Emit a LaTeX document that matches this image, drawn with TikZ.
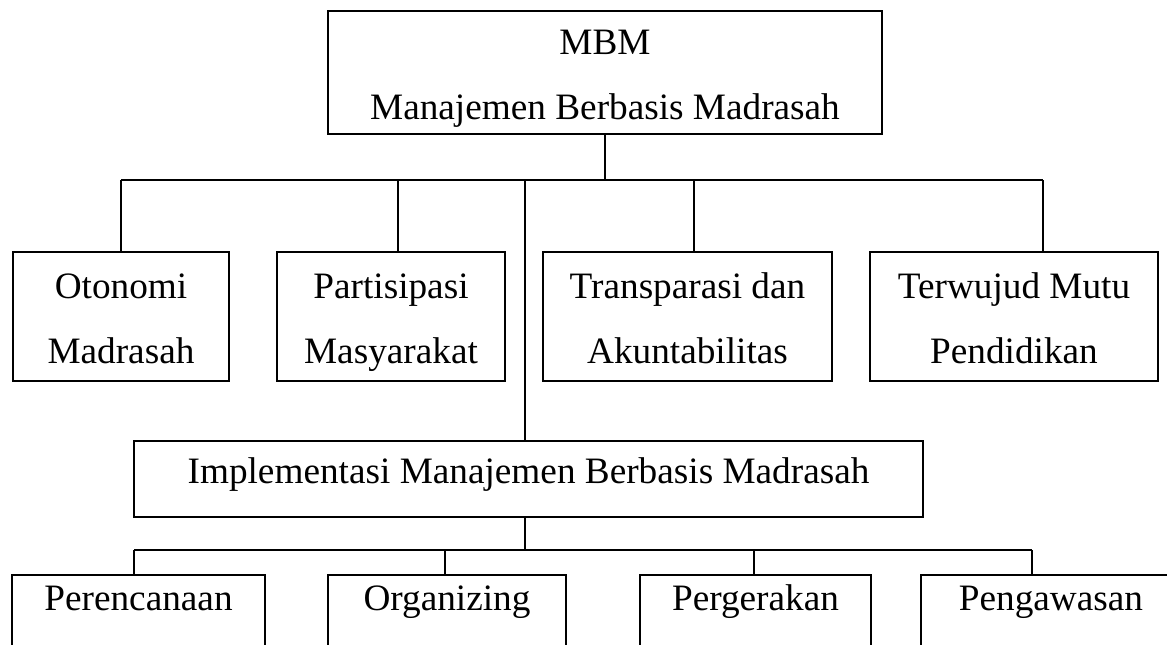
\documentclass[tikz,border=0pt]{standalone}
\usepackage{fontspec}
\setmainfont{Liberation Serif}
\usepackage{tikz}
\usetikzlibrary{positioning,calc}

\begin{document}
\begin{tikzpicture}[
  box/.style={draw, line width=1pt, align=center, inner sep=0pt, text height=2.16cm, text depth=0.3cm, font=\fontsize{21.2}{36.8}\selectfont},
  onebox/.style={box, text height=0.5cm, text depth=0.34cm},
  cutbox/.style={box, anchor=north, text height=0.72cm, text depth=1.2cm},
  link/.style={line width=1pt},
]
\useasboundingbox (0,0) rectangle (23.34,-12.9);
\node[box, minimum width=11.08cm, minimum height=2.46cm] (mbm) at (12.10,-1.45) {MBM\\Manajemen Berbasis Madrasah};
\node[box, minimum width=4.32cm, minimum height=2.58cm] (oto) at (2.42,-6.33) {Otonomi\\Madrasah};
\node[box, minimum width=4.56cm, minimum height=2.58cm] (par) at (7.82,-6.33) {Partisipasi\\Masyarakat};
\node[box, minimum width=5.78cm, minimum height=2.58cm] (tra) at (13.75,-6.33) {Transparasi dan\\Akuntabilitas};
\node[box, minimum width=5.76cm, minimum height=2.58cm] (ter) at (20.28,-6.33) {Terwujud Mutu\\Pendidikan};
\node[onebox, minimum width=15.78cm, minimum height=1.52cm] (imp) at (10.57,-9.58) {Implementasi Manajemen Berbasis Madrasah};
\node[cutbox, minimum width=5.06cm] (per) at (2.77,-11.48) {Perencanaan};
\node[cutbox, minimum width=4.76cm] (org) at (8.94,-11.48) {Organizing};
\node[cutbox, minimum width=4.62cm] (pge) at (15.11,-11.48) {Pergerakan};
\node[cutbox, minimum width=5.20cm] (pgw) at (21.02,-11.48) {Pengawasan};
\coordinate (topbar) at (0,-3.6);
\coordinate (lowbar) at (0,-11.0);
\draw[link] (mbm.south) -- (mbm.south |- topbar);
\draw[link] (oto.north |- topbar) -- ([xshift=0.58cm]ter.north |- topbar);
\foreach \n/\s in {oto/0, par/0.14, tra/0.13, ter/0.58}
  \draw[link] ([xshift=\s cm]\n.north) -- ([xshift=\s cm]\n.north |- topbar);
\draw[link] ([xshift=-0.07cm]imp.north) -- ([xshift=-0.07cm]imp.north |- topbar);
\draw[link] ([xshift=-0.07cm]imp.south) -- ([xshift=-0.07cm]imp.south |- lowbar);
\draw[link] ([xshift=-0.09cm]per.north |- lowbar) -- ([xshift=-0.38cm]pgw.north |- lowbar);
\foreach \n/\s in {per/-0.09, org/-0.04, pge/-0.03, pgw/-0.38}
  \draw[link] ([xshift=\s cm]\n.north) -- ([xshift=\s cm]\n.north |- lowbar);
\end{tikzpicture}
\end{document}
